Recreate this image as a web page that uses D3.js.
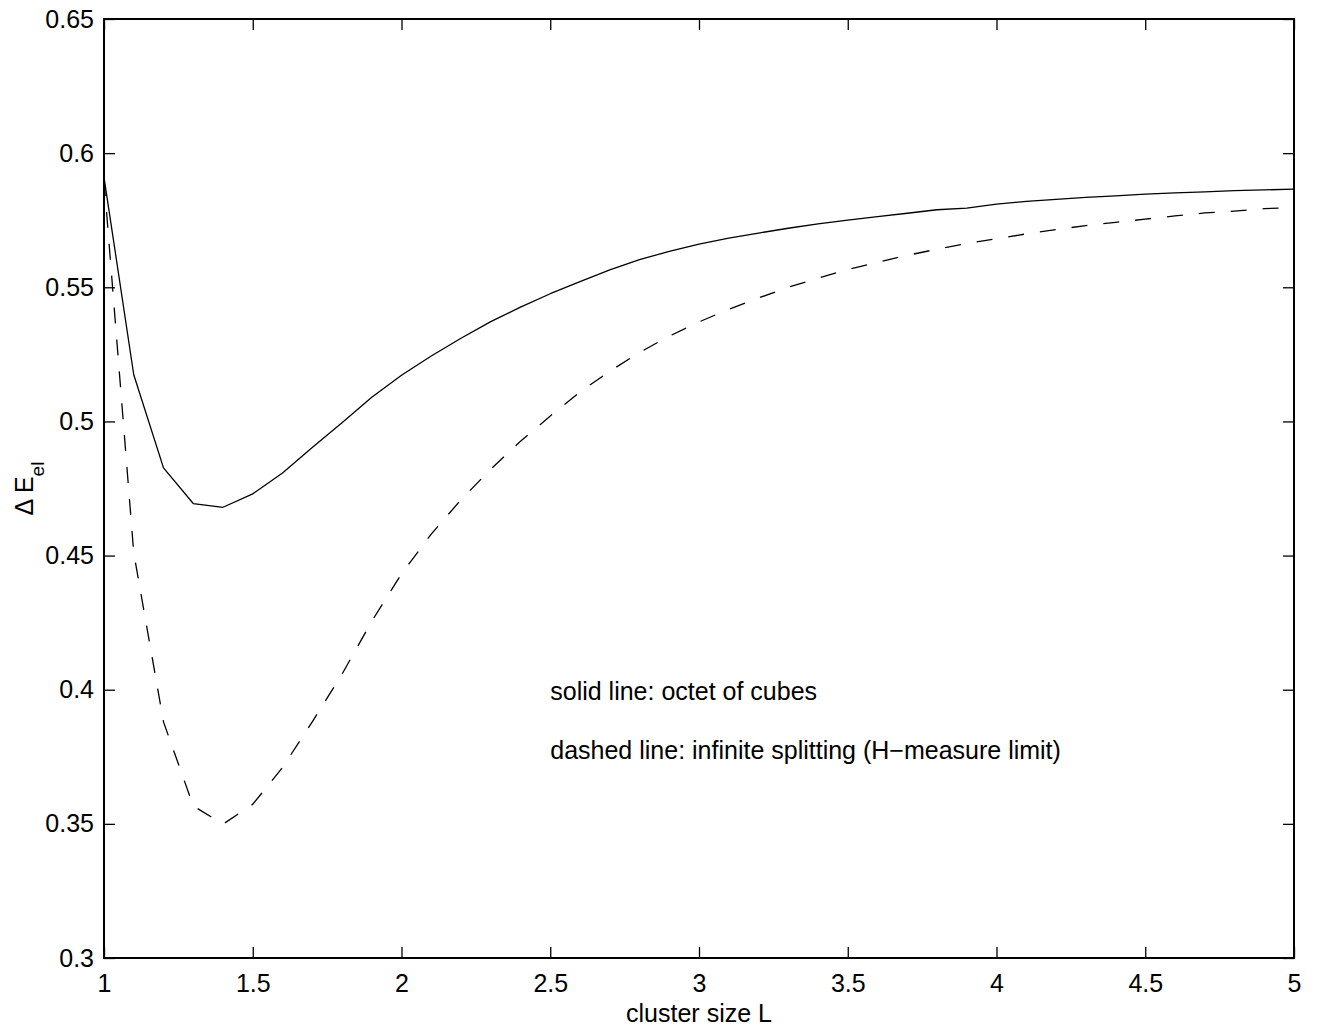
<!DOCTYPE html>
<html>
<head>
<meta charset="utf-8">
<script src="https://cdn.jsdelivr.net/npm/d3@7"></script>
<style>
  html, body { margin: 0; padding: 0; background: #fff; }
  svg { display: block; font-family: "Liberation Sans", Arial, Helvetica, sans-serif; }
</style>
</head>
<body>
<svg id="chart" width="1321" height="1030"></svg>
<script>
// ---- data ----
const clusterSize = [1.0,1.1,1.2,1.3,1.4,1.5,1.6,1.7,1.8,1.9,2.0,2.1,2.2,2.3,2.4,2.5,2.6,2.7,2.8,2.9,3.0,
  3.1,3.2,3.3,3.4,3.5,3.6,3.7,3.8,3.9,4.0,4.1,4.2,4.3,4.4,4.5,4.6,4.7,4.8,4.9,5.0];
const octetOfCubes = [0.591,0.5174,0.4827,0.4694,0.4680,0.4730,0.4808,0.4903,0.4995,0.5090,0.5172,
  0.5244,0.5310,0.5372,0.5426,0.5476,0.5521,0.5565,0.5603,0.5634,0.5661,0.5683,0.5702,0.5720,0.5736,
  0.5750,0.5763,0.5776,0.5789,0.5795,0.5810,0.5820,0.5828,0.5835,0.5841,0.5847,0.5852,0.5856,0.5860,
  0.5863,0.5866];
const infiniteSplitting = [0.590,0.4510,0.3880,0.3567,0.3499,0.3573,0.3710,0.3880,0.4058,0.4255,0.4432,
  0.4580,0.4708,0.4822,0.4926,0.5020,0.5110,0.5187,0.5257,0.5318,0.5371,0.5418,0.5460,0.5500,0.5534,
  0.5566,0.5593,0.5619,0.5642,0.5663,0.5681,0.5699,0.5715,0.5730,0.5742,0.5754,0.5766,0.5777,0.5784,
  0.5793,0.5797];
const xTicks = [1,1.5,2,2.5,3,3.5,4,4.5,5];
const xTickLabels = ["1","1.5","2","2.5","3","3.5","4","4.5","5"];
const yTicks = [0.3,0.35,0.4,0.45,0.5,0.55,0.6,0.65];
const yTickLabels = ["0.3","0.35","0.4","0.45","0.5","0.55","0.6","0.65"];
const annotations = [
  {x: 2.5, y: 0.3995, text: "solid line: octet of cubes"},
  {x: 2.5, y: 0.3775, text: "dashed line: infinite splitting (H\u2212measure limit)"}
];

// ---- layout ----
const svg = d3.select("#chart");
const mLeft = 104, mRight = 1294, mTop = 19, mBottom = 958;
const x = d3.scaleLinear().domain([1, 5]).range([mLeft, mRight]);
const y = d3.scaleLinear().domain([0.3, 0.65]).range([mBottom, mTop]);
const fontSize = 25;
const tickLen = 11;

// curves
const line = d3.line().x(d => x(d[0])).y(d => y(d[1]));
svg.append("path")
  .datum(clusterSize.map((c, i) => [c, octetOfCubes[i]]))
  .attr("d", line).attr("fill", "none").attr("stroke", "#000").attr("stroke-width", 1.3)
  .attr("stroke-linejoin", "round");
svg.append("path")
  .datum(clusterSize.map((c, i) => [c, infiniteSplitting[i]]))
  .attr("d", line).attr("fill", "none").attr("stroke", "#000").attr("stroke-width", 1.3)
  .attr("stroke-dasharray", "16,16");

// axes
function styleAxis(g) {
  g.select(".domain").remove();
  g.selectAll(".tick line").attr("stroke", "#000").attr("stroke-width", 1.3);
  g.selectAll(".tick text").attr("font-size", fontSize).attr("fill", "#000")
    .attr("font-family", "Liberation Sans, Arial, sans-serif");
}
svg.append("g").attr("transform", `translate(0,${mBottom})`)
  .call(d3.axisBottom(x).tickValues(xTicks).tickFormat((d, i) => xTickLabels[i])
    .tickSize(-tickLen).tickPadding(16))
  .call(styleAxis);
svg.append("g").attr("transform", `translate(0,${mTop})`)
  .call(d3.axisTop(x).tickValues(xTicks).tickFormat("").tickSize(-tickLen))
  .call(styleAxis);
svg.append("g").attr("transform", `translate(${mLeft},0)`)
  .call(d3.axisLeft(y).tickValues(yTicks).tickFormat((d, i) => yTickLabels[i])
    .tickSize(-tickLen).tickPadding(10))
  .call(styleAxis);
svg.append("g").attr("transform", `translate(${mRight},0)`)
  .call(d3.axisRight(y).tickValues(yTicks).tickFormat("").tickSize(-tickLen))
  .call(styleAxis);

// frame
svg.append("rect").attr("x", mLeft).attr("y", mTop)
  .attr("width", mRight - mLeft).attr("height", mBottom - mTop)
  .attr("fill", "none").attr("stroke", "#000").attr("stroke-width", 2);

// axis labels
svg.append("text").attr("x", (mLeft + mRight) / 2).attr("y", 1022)
  .attr("text-anchor", "middle").attr("font-size", fontSize).text("cluster size L");

const yl = svg.append("text")
  .attr("transform", `translate(33,${(mTop + mBottom) / 2}) rotate(-90)`)
  .attr("text-anchor", "middle").attr("font-size", fontSize);
yl.append("tspan").text("\u0394 E");
yl.append("tspan").attr("font-size", 19).attr("dy", 11).text("el");

// annotations
svg.selectAll("text.note").data(annotations).enter().append("text")
  .attr("class", "note")
  .attr("x", d => x(d.x)).attr("y", d => y(d.y))
  .attr("dy", "0.35em")
  .attr("font-size", fontSize)
  .text(d => d.text);
</script>
</body>
</html>
